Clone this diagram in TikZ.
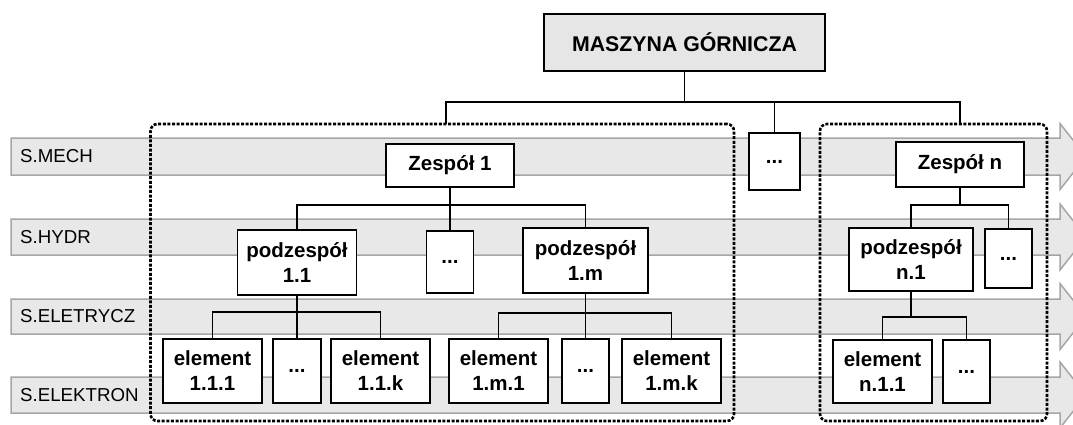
\documentclass[tikz,border=0pt]{standalone}
\usepackage{fontspec}
\setmainfont{Liberation Sans}
\usetikzlibrary{calc}
\definecolor{bandfill}{HTML}{E8E8E8}
\definecolor{bandline}{HTML}{A6A6A6}
\definecolor{rootfill}{HTML}{E6E6E6}

\tikzset{
  box/.style={draw=black, line width=1.9pt, fill=white, inner sep=0pt,
    align=center, font=\fontsize{20.5}{25}\selectfont\bfseries},
  conn/.style={draw=black, line width=1.9pt},
  group/.style={draw=black, line width=2.6pt, dash pattern=on 3pt off 1.6pt,
    rounded corners=7pt, inner sep=0pt},
  bandlbl/.style={anchor=west, inner sep=0pt, font=\fontsize{18.7}{22}\selectfont},
  band/.style={draw=bandline, fill=bandfill, line width=1.5pt},
}

\begin{document}
\begin{tikzpicture}[x=1pt,y=-1pt]
\useasboundingbox (0,0) rectangle (1073,424);
\clip (0,0) rectangle (1073,424);

% system bands (wide arrows)
\foreach \t/\b/\lbl [count=\i] in {138/175/S.MECH, 219/255/S.HYDR, 299/334/S.ELETRYCZ, 377/413/S.ELEKTRON} {
  \pgfmathsetmacro\c{(\t+\b)/2}
  \draw[band] (11,\t) -- (1060,\t) -- (1060,\c-33) -- (1086,\c) -- (1060,\c+33)
    -- (1060,\b) -- (11,\b) -- cycle;
  \node[bandlbl] (lbl\i) at (20,\c) {\lbl};
}

% assembly groups
\node[group, minimum width=583.5pt, minimum height=297pt] (g1) at (442.25,272.5) {};
\node[group, minimum width=227pt, minimum height=297pt] (g2) at (933.5,272.5) {};

% top level
\node[box, fill=rootfill, minimum width=281pt, minimum height=57pt,
  font=\fontsize{21.3}{25}\selectfont\bfseries] (root) at (684.5,42.5) {MASZYNA GÓRNICZA};
\node[box, minimum width=51pt, minimum height=57pt] (dotsTop) at (774.5,161.5) {...};

% assemblies
\node[box, minimum width=128pt, minimum height=43pt] (z1) at (450,165.5) {Zespół 1};
\node[box, minimum width=128pt, minimum height=45pt] (zn) at (960,164.5) {Zespół n};

% subassemblies
\node[box, minimum width=119pt, minimum height=65pt] (p11) at (297,262.5) {podzespół\\1.1};
\node[box, minimum width=47pt, minimum height=62pt] (dots1) at (450,262) {...};
\node[box, minimum width=125pt, minimum height=65pt] (p1m) at (585.5,260.5) {podzespół\\1.m};
\node[box, minimum width=124pt, minimum height=63pt] (pn1) at (911,259.5) {podzespół\\n.1};
\node[box, minimum width=47pt, minimum height=59pt] (dotsn) at (1008.5,258.5) {...};

% elements
\node[box, minimum width=99pt, minimum height=64pt] (e111) at (212.5,371) {element\\1.1.1};
\node[box, minimum width=48pt, minimum height=64pt] (e11d) at (297,371) {...};
\node[box, minimum width=99pt, minimum height=64pt] (e11k) at (380.5,371) {element\\1.1.k};
\node[box, minimum width=99pt, minimum height=64pt] (e1m1) at (498.5,371) {element\\1.m.1};
\node[box, minimum width=47pt, minimum height=64pt] (e1md) at (585.5,371) {...};
\node[box, minimum width=99pt, minimum height=64pt] (e1mk) at (671.5,371) {element\\1.m.k};
\node[box, minimum width=99pt, minimum height=63pt] (en11) at (882.5,371.5) {element\\n.1.1};
\node[box, minimum width=47pt, minimum height=63pt] (ennd) at (966.5,371.5) {...};

% bus heights
\coordinate (bus) at (684.5,102);
\coordinate (g1top) at (446,124);
\coordinate (g2top) at (960,124);
\coordinate (b1) at (0,205);
\coordinate (b2) at (0,312);
\coordinate (b3) at (0,313);
\coordinate (b4) at (0,317);

% connectors
\draw[conn] (root.south) -- (bus);
\draw[conn] (g1top) |- (bus) -| (g2top);
\draw[conn] (bus -| dotsTop.north) -- (dotsTop.north);

\draw[conn] (z1.south) -- (dots1.north);
\draw[conn] (p11.north) -- (p11.north |- b1) -- (p1m.north |- b1) -- (p1m.north);

\draw[conn] (p11.south) -- (e11d.north);
\draw[conn] (e111.north) -- (e111.north |- b2) -- (e11k.north |- b2) -- (e11k.north);

\draw[conn] (p1m.south) -- (e1md.north);
\draw[conn] (e1m1.north) -- (e1m1.north |- b3) -- (e1mk.north |- b3) -- (e1mk.north);

\draw[conn] (zn.south) -- (zn.south |- b1);
\draw[conn] (pn1.north) -- (pn1.north |- b1) -- (dotsn.north |- b1) -- (dotsn.north);

\draw[conn] (pn1.south) -- (pn1.south |- b4);
\draw[conn] (en11.north) -- (en11.north |- b4) -- (ennd.north |- b4) -- (ennd.north);
\end{tikzpicture}
\end{document}
